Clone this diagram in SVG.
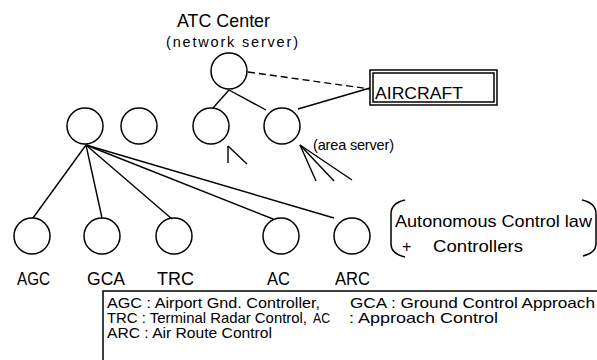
<svg xmlns="http://www.w3.org/2000/svg" width="597" height="360" viewBox="0 0 597 360">
<style>
.n{fill:none;stroke:#000;stroke-width:1.5}
.c{fill:none;stroke:#000;stroke-width:1.4}
.t{font-family:"Liberation Sans",Arial,sans-serif;fill:#000}
.lb{font-size:18px}
</style>
<rect width="597" height="360" fill="#fff"/>
<text class="t" x="177" y="27" font-size="19" textLength="93" lengthAdjust="spacingAndGlyphs">ATC Center</text>
<text class="t" x="166" y="47" font-size="14.5" textLength="132" lengthAdjust="spacing">(network server)</text>
<g id="connectors">
<line class="c" x1="229" y1="90" x2="213" y2="108"/>
<line class="c" x1="229" y1="90" x2="266" y2="110"/>
<line class="c" x1="248" y1="72" x2="370" y2="89" stroke-dasharray="7,4"/>
<line class="c" x1="298" y1="109" x2="370" y2="88"/>
<line class="c" x1="228" y1="146" x2="228" y2="163"/>
<line class="c" x1="228" y1="146" x2="247" y2="164"/>
<line class="c" x1="300" y1="145" x2="316" y2="181"/>
<line class="c" x1="300" y1="145" x2="334" y2="181"/>
<line class="c" x1="300" y1="145" x2="352" y2="180"/>
<line class="c" x1="86" y1="145" x2="33" y2="218"/>
<line class="c" x1="86" y1="145" x2="102" y2="218"/>
<line class="c" x1="86" y1="145" x2="172" y2="219"/>
<line class="c" x1="86" y1="145" x2="273" y2="219"/>
<line class="c" x1="86" y1="145" x2="334" y2="218"/>
</g>
<g id="atc-center"><circle class="n" cx="229" cy="71" r="18"/></g>
<g id="aircraft">
<rect class="n" x="370" y="70" width="127" height="35"/>
<rect class="n" x="373" y="73" width="121" height="29" stroke-width="1"/>
<text class="t" x="375" y="99" font-size="17" textLength="88" lengthAdjust="spacingAndGlyphs">AIRCRAFT</text>
</g>
<g id="node-l1"><circle class="n" cx="85" cy="126" r="18"/></g>
<g id="node-l2"><circle class="n" cx="139" cy="126" r="18"/></g>
<g id="node-l3"><circle class="n" cx="211" cy="126" r="18"/></g>
<g id="area-server"><circle class="n" cx="282" cy="126" r="18"/>
<text class="t" x="313" y="150" font-size="14.5" textLength="81" lengthAdjust="spacing">(area server)</text></g>
<g id="agc"><circle class="n" cx="32" cy="236" r="18"/><text class="t lb" x="17" y="285" textLength="33" lengthAdjust="spacingAndGlyphs">AGC</text></g>
<g id="gca"><circle class="n" cx="102" cy="236" r="18"/><text class="t lb" x="87" y="285" textLength="38" lengthAdjust="spacingAndGlyphs">GCA</text></g>
<g id="trc"><circle class="n" cx="174" cy="236" r="18"/><text class="t lb" x="157" y="285" textLength="37" lengthAdjust="spacingAndGlyphs">TRC</text></g>
<g id="ac"><circle class="n" cx="281" cy="236" r="18"/><text class="t lb" x="267" y="285" textLength="23" lengthAdjust="spacingAndGlyphs">AC</text></g>
<g id="arc"><circle class="n" cx="352" cy="236" r="18"/><text class="t lb" x="335" y="285" textLength="35" lengthAdjust="spacingAndGlyphs">ARC</text></g>
<g id="autonomous">
<path class="n" d="M405,200 Q391,203 391,214 L391,244 Q391,254 405,257"/>
<path class="n" d="M582,200 Q596,203 596,214 L596,244 Q596,253 583,256"/>
<text class="t" x="395" y="227" font-size="17" textLength="197" lengthAdjust="spacingAndGlyphs">Autonomous Control law</text>
<text class="t" x="402" y="252" font-size="16">+</text>
<text class="t" x="433" y="252" font-size="17" textLength="90" lengthAdjust="spacingAndGlyphs">Controllers</text>
</g>
<g id="legend">
<rect class="n" x="103" y="291" width="500" height="80" stroke-width="1.3"/>
<g class="t" font-size="14.5">
<text x="107" y="308" textLength="213" lengthAdjust="spacingAndGlyphs">AGC : Airport Gnd. Controller,</text>
<text x="350" y="308" textLength="245" lengthAdjust="spacingAndGlyphs">GCA : Ground Control Approach</text>
<text x="107" y="323" textLength="200" lengthAdjust="spacingAndGlyphs">TRC : Terminal Radar Control,</text>
<text x="313" y="323" textLength="17" lengthAdjust="spacingAndGlyphs">AC</text>
<text x="349" y="323" textLength="149" lengthAdjust="spacingAndGlyphs">: Approach Control</text>
<text x="107" y="338" textLength="165" lengthAdjust="spacingAndGlyphs">ARC : Air Route Control</text>
</g>
</g>
</svg>
